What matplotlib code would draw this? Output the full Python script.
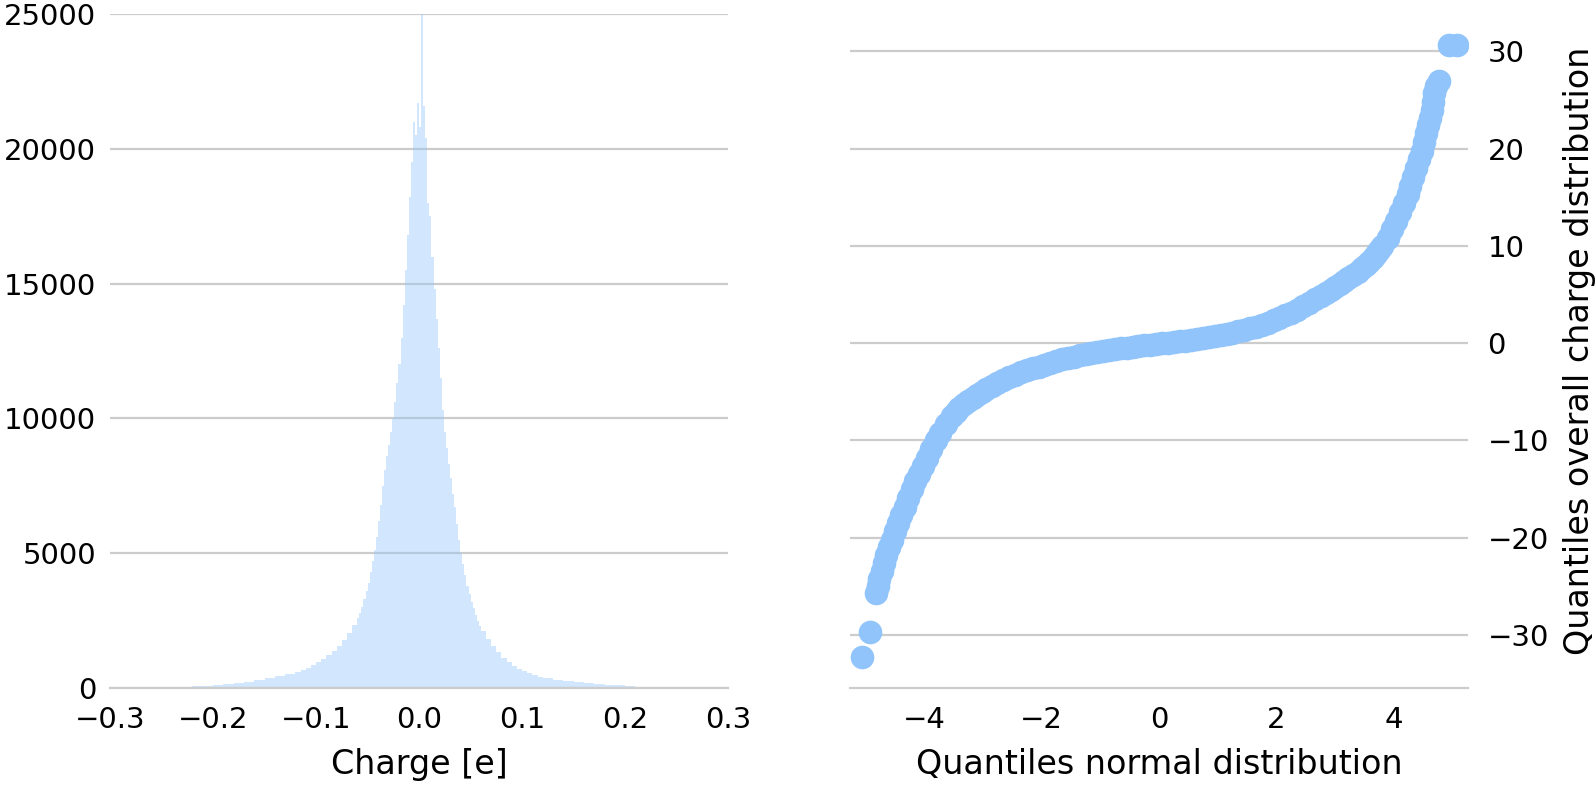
import numpy as np
import matplotlib.pyplot as plt

# Histogram of the charges: bin heights
tail_left_counts = [0, 0, 2, 5, 10, 15, 25, 40, 60, 85, 115, 150, 190, 240, 300, 370, 440, 520]
mid_left_counts = [600, 680, 760, 860, 960, 1080, 1220, 1380, 1560, 1780, 2050, 2350]
center_counts = [2600, 2800, 3000, 3300, 3600, 3900, 4300, 4700, 5100, 5600,
                 6200, 6800, 7500, 8100, 8600, 9000, 9500, 10000, 10600, 11300,
                 12000, 13000, 14200, 15500, 16800, 18200, 19500, 21000, 20500, 21700,
                 20800, 25000, 21600, 20400, 18000, 17500, 16000, 14800, 13700, 12600,
                 11500, 10300, 9500, 8900, 8300, 7800, 7200, 6700, 6100, 5500,
                 5000, 4600, 4200, 3800, 3500, 3200, 2950, 2700, 2500, 2300]
mid_right_counts = [2100, 1800, 1550, 1320, 1120, 960, 820, 710, 620, 540, 470, 410]
tail_right_counts = [360, 310, 265, 225, 190, 155, 125, 100, 75, 55, 38, 25, 15, 9, 5, 2, 1, 0]

# Q-Q plot: theoretical (normal) quantiles vs. sample quantiles
qq_theoretical = [-5.06, -4.92, -4.82, -4.79, -4.76, -4.72, -4.68, -4.64, -4.59, -4.54,
                  -4.49, -4.44, -4.39, -4.33, -4.27, -4.21, -4.15, -4.09, -4.02, -3.95,
                  -3.88, -3.80, -3.72, -3.63, -3.52, -3.46, -3.40, -3.32, -3.25, -3.17,
                  -3.10, -3.02, -2.95, -2.85, -2.75, -2.65, -2.55, -2.45, -2.35, -2.25,
                  -2.15, -2.05, -1.95, -1.85, -1.75, -1.65, -1.55, -1.45, -1.35, -1.25,
                  -1.15, -1.05, -0.95, -0.85, -0.75, -0.65, -0.55, -0.45, -0.35, -0.25,
                  -0.15, -0.05, 0.05, 0.15, 0.25, 0.35, 0.45, 0.55, 0.65, 0.75,
                  0.85, 0.95, 1.05, 1.15, 1.25, 1.35, 1.45, 1.55, 1.65, 1.75,
                  1.85, 1.95, 2.05, 2.15, 2.25, 2.35, 2.45, 2.55, 2.65, 2.75,
                  2.85, 2.92, 3.00, 3.08, 3.15, 3.22, 3.30, 3.38, 3.45, 3.52,
                  3.58, 3.64, 3.70, 3.75, 3.80, 3.89, 3.97, 4.04, 4.11, 4.17,
                  4.23, 4.28, 4.33, 4.38, 4.43, 4.47, 4.51, 4.55, 4.58, 4.61,
                  4.64, 4.66, 4.68, 4.72, 4.77, 4.93, 5.07]
qq_sample = [-32.3, -29.7, -25.7, -25.0, -24.2, -23.4, -22.6, -21.8, -21.0, -20.2,
             -19.3, -18.5, -17.7, -16.8, -15.9, -15.0, -14.2, -13.4, -12.6, -11.8,
             -10.9, -10.0, -9.2, -8.3, -7.5, -7.1, -6.7, -6.3, -5.9, -5.6,
             -5.3, -5.0, -4.7, -4.4, -4.1, -3.8, -3.5, -3.25, -3.0, -2.8,
             -2.6, -2.4, -2.2, -2.02, -1.85, -1.67, -1.5, -1.37, -1.25, -1.12,
             -1.0, -0.9, -0.8, -0.7, -0.6, -0.52, -0.45, -0.37, -0.3, -0.22,
             -0.15, -0.07, 0.0, 0.06, 0.12, 0.18, 0.25, 0.32, 0.4, 0.5,
             0.6, 0.72, 0.85, 0.97, 1.1, 1.22, 1.35, 1.52, 1.7, 1.9,
             2.1, 2.35, 2.6, 2.85, 3.1, 3.45, 3.8, 4.15, 4.5, 4.85,
             5.2, 5.5, 5.8, 6.1, 6.4, 6.7, 7.0, 7.35, 7.7, 8.05,
             8.4, 8.8, 9.2, 9.6, 10.0, 10.8, 11.7, 12.6, 13.5, 14.4,
             15.3, 16.2, 17.1, 18.0, 18.9, 19.8, 20.7, 21.6, 22.4, 23.2,
             24.0, 24.8, 25.7, 26.4, 27.0, 30.7, 30.7]

counts = np.array(tail_left_counts + mid_left_counts + center_counts
                  + mid_right_counts + tail_right_counts)
edges = np.concatenate([np.linspace(-0.30, -0.12, 19)[:-1],
                        np.linspace(-0.12, -0.06, 13)[:-1],
                        np.linspace(-0.06, 0.06, 61)[:-1],
                        np.linspace(0.06, 0.12, 13)[:-1],
                        np.linspace(0.12, 0.30, 19)])

blue = "#90c4fb"
grid_col = "#cccccc"
tick_size = 21
label_size = 24

fig = plt.figure(figsize=(15.95, 7.95), dpi=100)
ax1 = fig.add_axes([0.069, 0.1346, 0.3875, 0.8478])
ax2 = fig.add_axes([0.5329, 0.1346, 0.3875, 0.8478])

# left: histogram
ax1.stairs(counts, edges, fill=True, color=blue, alpha=0.4, linewidth=0)
ax1.set_xlim(-0.3, 0.3)
ax1.set_ylim(0, 25000)
ax1.set_xticks(np.arange(-0.3, 0.31, 0.1))
ax1.set_yticks(np.arange(0, 25001, 5000))
ax1.set_xlabel("Charge [e]", fontsize=label_size, labelpad=10)

# right: Q-Q plot
ax2.scatter(qq_theoretical, qq_sample, s=290, color=blue, linewidths=0)
ax2.set_xlim(-5.26, 5.26)
ax2.set_ylim(-35.45, 33.85)
ax2.set_xticks([-4, -2, 0, 2, 4])
ax2.set_yticks([-30, -20, -10, 0, 10, 20, 30])
ax2.yaxis.tick_right()
ax2.yaxis.set_label_position("right")
ax2.set_xlabel("Quantiles normal distribution", fontsize=label_size, labelpad=10)
ax2.set_ylabel("Quantiles overall charge distribution", fontsize=label_size, labelpad=10)

for ax in (ax1, ax2):
    ax.set_axisbelow(True)
    ax.grid(axis="y", color=grid_col, linewidth=1.6)
    for side in ("top", "left", "right"):
        ax.spines[side].set_visible(False)
    ax.spines["bottom"].set_color(grid_col)
    ax.spines["bottom"].set_linewidth(1.6)
    ax.tick_params(length=0, labelsize=tick_size)
    ax.tick_params(axis="x", pad=13)
ax1.tick_params(axis="y", pad=10)
ax2.tick_params(axis="y", pad=14)

fig.savefig("out.png", dpi=100)
